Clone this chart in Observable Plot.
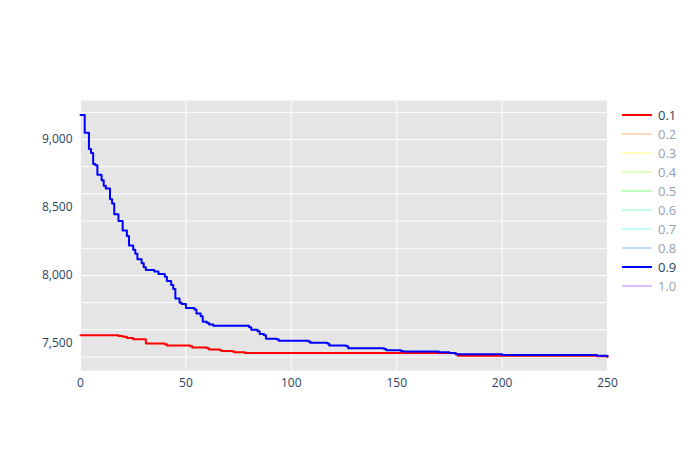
<!DOCTYPE html>
<html><head><meta charset="utf-8">
<script src="https://cdn.jsdelivr.net/npm/d3@7"></script>
<script src="https://cdn.jsdelivr.net/npm/@observablehq/plot@0.6"></script>
<style>body{margin:0;background:#fff;font-family:"Open Sans",sans-serif}#wrap{position:relative;width:700px;height:450px}
#legend{position:absolute;left:622px;top:105px;font-size:13px}
.item{height:19px;display:flex;align-items:center}
.sw{width:30px;height:2px;margin-right:6px}</style>
</head><body><div id="wrap"><div id="chart"></div><div id="legend"></div></div>
<script>
const blueX = [0,2,4,5,6,7,8,10,11,12,14,15,16,18,20,22,23,25,26,27,29,30,31,35,37,40,41,43,44,45,47,48,50,54,55,57,58,60,61,63,80,81,84,85,87,88,93,94,108,109,117,118,126,127,144,145,152,153,170,175,178,200,245,250];
const blueY = [9180,9050,8930,8900,8820,8810,8740,8700,8660,8640,8560,8530,8450,8400,8330,8290,8220,8190,8160,8120,8090,8060,8040,8030,8010,7990,7960,7930,7900,7830,7800,7790,7760,7750,7720,7700,7660,7650,7640,7630,7620,7600,7590,7570,7560,7535,7530,7520,7515,7505,7500,7485,7480,7465,7460,7450,7445,7440,7435,7430,7420,7415,7410,7405];
const redX = [0,18,20,22,25,31,40,41,52,53,60,61,66,67,72,73,78,178,179,245,250];
const redY = [7560,7555,7550,7540,7530,7500,7495,7485,7480,7470,7465,7455,7450,7445,7440,7435,7430,7420,7410,7405,7400];
const legendNames = ["0.1","0.2","0.3","0.4","0.5","0.6","0.7","0.8","0.9","1.0"];
const legendColors = ["red","#ffb27f","#ffff7f","#bfff7f","#7fff7f","#7fffbf","#7fffff","#7fbfff","blue","#bf7fff"];
const legendOn = [true,false,false,false,false,false,false,false,true,false];

const blue = blueX.map((x,i)=>({x,y:blueY[i]}));
const red = redX.map((x,i)=>({x,y:redY[i]}));

const plot = Plot.plot({
  width:700, height:450, marginLeft:80, marginRight:93, marginTop:100, marginBottom:80,
  style:{fontSize:"12px", color:"#2a3f5f", fontFamily:"Open Sans"},
  x:{domain:[0,250], ticks:[0,50,100,150,200,250], label:null, tickSize:0, tickPadding:8},
  y:{domain:[7301,9287], ticks:[7500,8000,8500,9000], label:null, tickSize:0, tickPadding:8},
  marks:[
    Plot.frame({fill:"#e5e5e5", stroke:null}),
    Plot.gridX({stroke:"white", strokeOpacity:1, strokeWidth:1}),
    Plot.gridY({stroke:"white", strokeOpacity:1, strokeWidth:1}),
    Plot.line(red,{x:"x",y:"y",stroke:"red",strokeWidth:2,curve:"step-after"}),
    Plot.line(blue,{x:"x",y:"y",stroke:"blue",strokeWidth:2,curve:"step-after"})
  ]
});
document.querySelector("#chart").append(plot);
const lg = document.querySelector("#legend");
legendNames.forEach((n,i)=>{
  const d = document.createElement("div"); d.className="item";
  d.style.opacity = legendOn[i] ? 1 : 0.5;
  d.innerHTML = `<span class="sw" style="background:${legendColors[i]}"></span><span style="color:#2a3f5f">${n}</span>`;
  lg.append(d);
});
</script></body></html>
